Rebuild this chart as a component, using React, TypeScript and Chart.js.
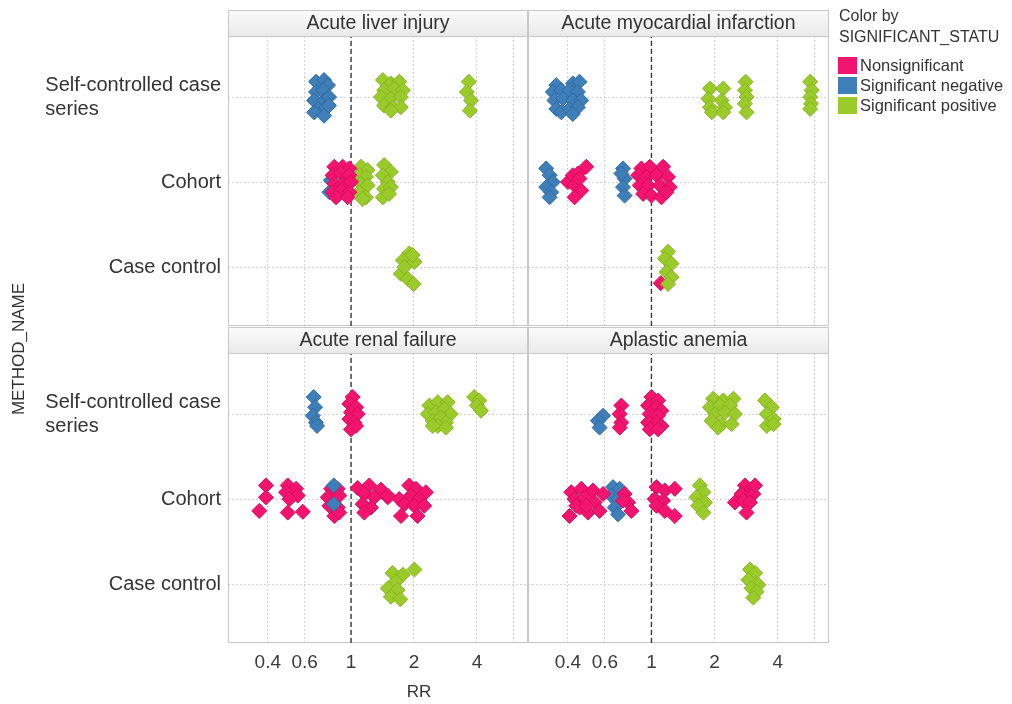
import React, { useEffect, useRef } from "react";
import { Chart, registerables } from "chart.js";

Chart.register(...registerables);

// ---- categories -------------------------------------------------------------
const SCCS = "Self-controlled case series";
const COHORT = "Cohort";
const CASE_CONTROL = "Case control";

// bottom to top on the vertical axis
const METHOD_ORDER = [CASE_CONTROL, COHORT, SCCS];
const METHOD_LINES: Record<string, string[]> = {
  [SCCS]: ["Self-controlled case", "series"],
  [COHORT]: ["Cohort"],
  [CASE_CONTROL]: ["Case control"],
};

const STATUSES = ["Nonsignificant", "Significant negative", "Significant positive"];
const STATUS_FILL = ["#F3146F", "#3F7FB9", "#9BCB2B"];
const STATUS_EDGE = ["#D70A5C", "#2F6AA0", "#86B51E"];

const RR_TICKS = [0.4, 0.6, 1, 2, 4, 6];
const RR_TICK_LABELS = ["0.4", "0.6", "1", "2", "4", ""];

// each estimate: [method, RR, vertical jitter within the method row]
type Est = [string, number, number];

// ---- Acute liver injury -------------------------------------------------------
const liverNonsig: Est[] = [
  [COHORT, 0.832, 0.18], [COHORT, 0.913, 0.18], [COHORT, 0.982, 0.16], [COHORT, 0.817, 0.08],
  [COHORT, 0.896, 0.1], [COHORT, 0.982, 0.08], [COHORT, 0.832, -0.02], [COHORT, 0.913, -0.02],
  [COHORT, 1.0, 0], [COHORT, 0.817, -0.12], [COHORT, 0.896, -0.1], [COHORT, 0.982, -0.12],
  [COHORT, 0.848, -0.18], [COHORT, 0.964, -0.18],
];
const liverNeg: Est[] = [
  [SCCS, 0.68, 0.18], [SCCS, 0.743, 0.2], [SCCS, 0.776, 0.14], [SCCS, 0.68, 0.06],
  [SCCS, 0.735, 0.08], [SCCS, 0.666, -0.04], [SCCS, 0.743, -0.04], [SCCS, 0.785, 0],
  [SCCS, 0.695, -0.14], [SCCS, 0.76, -0.12], [SCCS, 0.666, -0.18], [SCCS, 0.743, -0.22],
  [SCCS, 0.785, -0.1],
  [COHORT, 0.788, -0.12], [COHORT, 0.8, 0.02],
];
const liverPos: Est[] = [
  [SCCS, 1.42, 0.2], [SCCS, 1.55, 0.16], [SCCS, 1.7, 0.18], [SCCS, 1.44, 0.08],
  [SCCS, 1.61, 0.1], [SCCS, 1.77, 0.08], [SCCS, 1.39, 0], [SCCS, 1.55, -0.02],
  [SCCS, 1.73, 0], [SCCS, 1.44, -0.1], [SCCS, 1.58, -0.12], [SCCS, 1.73, -0.12],
  [SCCS, 1.55, -0.16],
  [SCCS, 3.66, 0.18], [SCCS, 3.58, 0.06], [SCCS, 3.75, -0.04], [SCCS, 3.7, -0.16],
  [COHORT, 1.116, 0.18], [COHORT, 1.2, 0.14], [COHORT, 1.096, 0.08], [COHORT, 1.179, 0.06],
  [COHORT, 1.116, -0.02], [COHORT, 1.2, -0.04], [COHORT, 1.096, -0.12], [COHORT, 1.179, -0.18],
  [COHORT, 1.137, -0.2],
  [COHORT, 1.44, 0.2], [COHORT, 1.55, 0.12], [COHORT, 1.42, 0.08], [COHORT, 1.5, 0],
  [COHORT, 1.44, -0.08], [COHORT, 1.55, -0.06], [COHORT, 1.42, -0.18], [COHORT, 1.52, -0.14],
  [CASE_CONTROL, 1.9, 0.16], [CASE_CONTROL, 1.77, 0.08], [CASE_CONTROL, 2.01, 0.06],
  [CASE_CONTROL, 1.73, -0.08], [CASE_CONTROL, 1.87, -0.14], [CASE_CONTROL, 1.99, -0.2],
  [CASE_CONTROL, 1.97, 0.14], [CASE_CONTROL, 1.8, 0],
];

// ---- Acute myocardial infarction --------------------------------------------
const amiNonsig: Est[] = [
  [COHORT, 0.4, 0], [COHORT, 0.422, 0.08], [COHORT, 0.446, 0.1], [COHORT, 0.489, 0.18],
  [COHORT, 0.43, -0.04], [COHORT, 0.463, -0.1], [COHORT, 0.43, -0.18], [COHORT, 0.454, 0.04],
  [COHORT, 0.896, 0.16], [COHORT, 0.982, 0.18], [COHORT, 1.137, 0.18], [COHORT, 0.864, 0.08],
  [COHORT, 0.946, 0.06], [COHORT, 1.057, 0.08], [COHORT, 1.2, 0.06], [COHORT, 0.879, -0.04],
  [COHORT, 0.964, -0.04], [COHORT, 1.096, -0.04], [COHORT, 1.223, -0.06], [COHORT, 0.913, -0.14],
  [COHORT, 1.0, -0.16], [COHORT, 1.116, -0.18], [COHORT, 1.179, -0.12],
  [CASE_CONTROL, 1.108, -0.19],
];
const amiNeg: Est[] = [
  [SCCS, 0.352, 0.14], [SCCS, 0.339, 0.06], [SCCS, 0.372, 0.08], [SCCS, 0.345, -0.04],
  [SCCS, 0.379, -0.02], [SCCS, 0.352, -0.14], [SCCS, 0.372, -0.18],
  [SCCS, 0.422, 0.16], [SCCS, 0.454, 0.18], [SCCS, 0.407, 0.08], [SCCS, 0.446, 0.06],
  [SCCS, 0.422, -0.04], [SCCS, 0.463, -0.04], [SCCS, 0.407, -0.14], [SCCS, 0.446, -0.12],
  [SCCS, 0.422, -0.2],
  [COHORT, 0.315, 0.16], [COHORT, 0.327, 0.08], [COHORT, 0.339, 0], [COHORT, 0.315, -0.06],
  [COHORT, 0.333, -0.12], [COHORT, 0.327, -0.18],
  [COHORT, 0.732, 0.16], [COHORT, 0.745, 0.04], [COHORT, 0.732, -0.06], [COHORT, 0.745, -0.16],
  [COHORT, 0.719, 0.1],
];
const amiPos: Est[] = [
  [SCCS, 1.9, 0.1], [SCCS, 1.87, -0.02], [SCCS, 1.9, -0.12], [SCCS, 1.94, -0.18],
  [SCCS, 2.2, 0.1], [SCCS, 2.16, -0.04], [SCCS, 2.24, -0.12], [SCCS, 2.2, -0.18],
  [SCCS, 2.81, 0.18], [SCCS, 2.79, 0.08], [SCCS, 2.84, 0], [SCCS, 2.79, -0.08], [SCCS, 2.84, -0.18],
  [SCCS, 5.71, 0.18], [SCCS, 5.81, 0.08], [SCCS, 5.71, 0], [SCCS, 5.76, -0.08], [SCCS, 5.71, -0.14],
  [CASE_CONTROL, 1.2, 0.18], [CASE_CONTROL, 1.158, 0.1], [CASE_CONTROL, 1.246, 0.04],
  [CASE_CONTROL, 1.179, -0.06], [CASE_CONTROL, 1.246, -0.12], [CASE_CONTROL, 1.2, -0.2],
];

// ---- Acute renal failure -----------------------------------------------------
const renalNonsig: Est[] = [
  [SCCS, 1.019, 0.2], [SCCS, 0.982, 0.12], [SCCS, 1.057, 0.08], [SCCS, 1.0, 0.02],
  [SCCS, 1.076, 0], [SCCS, 0.982, -0.06], [SCCS, 1.037, -0.1], [SCCS, 1.0, -0.18],
  [SCCS, 1.057, -0.14],
  [COHORT, 0.392, 0.16], [COHORT, 0.392, 0.02], [COHORT, 0.364, -0.14],
  [COHORT, 0.498, 0.16], [COHORT, 0.546, 0.12], [COHORT, 0.489, 0.08], [COHORT, 0.556, 0.04],
  [COHORT, 0.507, 0], [COHORT, 0.498, -0.16], [COHORT, 0.588, -0.15],
  [COHORT, 0.803, 0.12], [COHORT, 0.864, 0.12], [COHORT, 0.774, 0.02], [COHORT, 0.879, 0.04],
  [COHORT, 0.788, -0.08], [COHORT, 0.864, -0.1], [COHORT, 0.832, -0.2], [COHORT, 0.879, -0.16],
  [COHORT, 1.076, 0.13], [COHORT, 1.223, 0.16], [COHORT, 1.391, 0.11], [COHORT, 1.158, 0.06],
  [COHORT, 1.292, 0.02], [COHORT, 1.498, 0.02], [COHORT, 1.7, 0], [COHORT, 1.137, -0.06],
  [COHORT, 1.246, -0.1], [COHORT, 1.498, 0.04], [COHORT, 1.158, -0.16], [COHORT, 1.734, -0.2],
  [COHORT, 1.9, 0.16], [COHORT, 2.045, 0.12], [COHORT, 2.28, 0.08], [COHORT, 1.935, 0.04],
  [COHORT, 2.12, 0], [COHORT, 1.8, -0.06], [COHORT, 2.01, -0.08], [COHORT, 2.24, -0.08],
  [COHORT, 2.08, -0.2],
];
const renalNeg: Est[] = [
  [SCCS, 0.663, 0.2], [SCCS, 0.673, 0.08], [SCCS, 0.656, -0.02], [SCCS, 0.68, -0.1],
  [SCCS, 0.688, -0.14],
  [COHORT, 0.827, 0.16], [COHORT, 0.827, -0.06],
];
const renalPos: Est[] = [
  [SCCS, 2.37, 0.1], [SCCS, 2.6, 0.14], [SCCS, 2.9, 0.14], [SCCS, 2.33, 0],
  [SCCS, 2.55, 0.02], [SCCS, 2.79, 0.06], [SCCS, 3.0, 0], [SCCS, 2.46, -0.08],
  [SCCS, 2.69, -0.04], [SCCS, 2.84, -0.1], [SCCS, 2.6, -0.14], [SCCS, 2.84, -0.16],
  [SCCS, 2.46, -0.14],
  [SCCS, 3.88, 0.2], [SCCS, 4.1, 0.16], [SCCS, 4.0, 0.1], [SCCS, 4.18, 0.04],
  [CASE_CONTROL, 1.58, 0.13], [CASE_CONTROL, 1.77, 0.11], [CASE_CONTROL, 2.01, 0.17],
  [CASE_CONTROL, 1.64, 0.03], [CASE_CONTROL, 1.5, -0.05], [CASE_CONTROL, 1.67, -0.07],
  [CASE_CONTROL, 1.55, -0.15], [CASE_CONTROL, 1.72, -0.18],
];

// ---- Aplastic anemia ---------------------------------------------------------
const aplasticNonsig: Est[] = [
  [SCCS, 0.719, 0.1], [SCCS, 0.706, 0], [SCCS, 0.719, -0.1], [SCCS, 0.706, -0.16],
  [SCCS, 1.0, 0.2], [SCCS, 1.076, 0.16], [SCCS, 0.964, 0.1], [SCCS, 1.057, 0.08],
  [SCCS, 1.116, 0.04], [SCCS, 0.982, 0], [SCCS, 1.076, -0.02], [SCCS, 0.964, -0.1],
  [SCCS, 1.057, -0.1], [SCCS, 1.116, -0.14], [SCCS, 0.982, -0.18], [SCCS, 1.076, -0.18],
  [COHORT, 0.415, 0.08], [COHORT, 0.463, 0.12], [COHORT, 0.526, 0.1], [COHORT, 0.43, 0],
  [COHORT, 0.48, 0.02], [COHORT, 0.536, -0.04], [COHORT, 0.588, 0.06], [COHORT, 0.407, -0.2],
  [COHORT, 0.454, -0.1], [COHORT, 0.498, -0.16], [COHORT, 0.566, -0.14], [COHORT, 0.438, -0.08],
  [COHORT, 0.489, -0.08],
  [COHORT, 0.745, 0.06], [COHORT, 0.774, -0.04], [COHORT, 0.803, -0.14], [COHORT, 0.732, -0.02],
  [COHORT, 1.057, 0.14], [COHORT, 1.158, 0.1], [COHORT, 1.292, 0.12], [COHORT, 1.037, 0],
  [COHORT, 1.137, -0.02], [COHORT, 1.057, -0.08], [COHORT, 1.158, -0.14], [COHORT, 1.292, -0.2],
  [COHORT, 2.79, 0.16], [COHORT, 3.0, 0.12], [COHORT, 2.69, 0.06], [COHORT, 2.9, 0.04],
  [COHORT, 3.06, 0.06], [COHORT, 2.5, -0.04], [COHORT, 2.74, -0.02], [COHORT, 2.95, -0.04],
  [COHORT, 2.84, -0.16], [COHORT, 3.12, 0.16],
];
const aplasticNeg: Est[] = [
  [SCCS, 0.588, -0.02], [SCCS, 0.556, -0.08], [SCCS, 0.566, -0.16],
  [COHORT, 0.656, 0.14], [COHORT, 0.706, 0.12], [COHORT, 0.644, 0.04], [COHORT, 0.693, 0],
  [COHORT, 0.668, -0.1], [COHORT, 0.693, -0.18],
];
const aplasticPos: Est[] = [
  [SCCS, 1.97, 0.18], [SCCS, 2.2, 0.16], [SCCS, 2.46, 0.18], [SCCS, 1.9, 0.08],
  [SCCS, 2.12, 0.1], [SCCS, 2.37, 0.1], [SCCS, 2.01, 0], [SCCS, 2.24, 0.02],
  [SCCS, 2.5, 0], [SCCS, 1.935, -0.08], [SCCS, 2.16, -0.12], [SCCS, 2.41, -0.12],
  [SCCS, 2.08, -0.16],
  [SCCS, 3.48, 0.16], [SCCS, 3.75, 0.08], [SCCS, 3.55, 0], [SCCS, 3.82, -0.06],
  [SCCS, 3.55, -0.14], [SCCS, 3.82, -0.12],
  [COHORT, 1.7, 0.16], [COHORT, 1.77, 0.08], [COHORT, 1.64, 0.02], [COHORT, 1.8, -0.04],
  [COHORT, 1.67, -0.08], [COHORT, 1.77, -0.16],
  [CASE_CONTROL, 2.95, 0.17], [CASE_CONTROL, 3.12, 0.13], [CASE_CONTROL, 2.9, 0.05],
  [CASE_CONTROL, 3.23, -0.01], [CASE_CONTROL, 3.0, -0.05], [CASE_CONTROL, 3.17, -0.09],
  [CASE_CONTROL, 3.06, -0.16],
];

// ---- facets --------------------------------------------------------------------
type Panel = {
  title: string;
  col: number;
  row: number;
  // [status index, estimates]; the first layer is painted on top
  layers: [number, Est[]][];
};

const PANELS: Panel[] = [
  { title: "Acute liver injury", col: 0, row: 0, layers: [[0, liverNonsig], [1, liverNeg], [2, liverPos]] },
  { title: "Acute myocardial infarction", col: 1, row: 0, layers: [[2, amiPos], [0, amiNonsig], [1, amiNeg]] },
  { title: "Acute renal failure", col: 0, row: 1, layers: [[1, renalNeg], [0, renalNonsig], [2, renalPos]] },
  { title: "Aplastic anemia", col: 1, row: 1, layers: [[0, aplasticNonsig], [1, aplasticNeg], [2, aplasticPos]] },
];

// ---- layout ----------------------------------------------------------------------
const W = 1012;
const H = 704;
const COL_X = [[228, 528], [528, 829]];
const ROW_Y = [[36, 326], [353, 643]];
const STRIP_H = 26;
const AXIS_H = 34;
const RR_MIN = 0.258;
const RR_MAX = 7.02;
const Y_MIN = 0.306;
const Y_MAX = 3.718;
const FONT = "'Liberation Sans', Arial, Helvetica, sans-serif";
const TEXT = "#333333";
const GRID = "#d2d2d2";
const FRAME = "#c8c8c8";

function makeDecor(panel: Panel) {
  return {
    id: "facetDecor",
    beforeDatasetsDraw(chart: any) {
      const { ctx, chartArea: a } = chart;
      ctx.save();
      ctx.strokeStyle = FRAME;
      ctx.lineWidth = 1;
      ctx.strokeRect(a.left + 0.5, a.top + 0.5, a.right - a.left - 1, a.bottom - a.top - 1);
      ctx.restore();
    },
    afterDraw(chart: any) {
      const { ctx, chartArea: a } = chart;
      ctx.save();

      // facet strip
      const sTop = a.top - STRIP_H;
      const g = ctx.createLinearGradient(0, sTop, 0, a.top);
      g.addColorStop(0, "#fbfbfb");
      g.addColorStop(1, "#eaeaea");
      ctx.fillStyle = g;
      ctx.fillRect(a.left, sTop, a.right - a.left, STRIP_H);
      ctx.strokeStyle = FRAME;
      ctx.lineWidth = 1;
      ctx.strokeRect(a.left + 0.5, sTop + 0.5, a.right - a.left - 1, STRIP_H);
      ctx.fillStyle = TEXT;
      ctx.font = `19.5px ${FONT}`;
      ctx.textAlign = "center";
      ctx.textBaseline = "middle";
      ctx.fillText(panel.title, (a.left + a.right) / 2, sTop + STRIP_H / 2 + 1);

      // method names beside the left column
      if (panel.col === 0) {
        const yScale = chart.scales.y;
        ctx.font = `20px ${FONT}`;
        ctx.textAlign = "left";
        ctx.fillStyle = TEXT;
        METHOD_ORDER.forEach((m, i) => {
          const lines = METHOD_LINES[m];
          const cy = yScale.getPixelForValue(i + 1);
          const w = Math.max(...lines.map((l) => ctx.measureText(l).width));
          const x0 = 221 - w;
          lines.forEach((ln, k) => {
            ctx.fillText(ln, x0, cy + (k - (lines.length - 1) / 2) * 24);
          });
        });
      }

      // axis titles
      if (panel.col === 0 && panel.row === 1) {
        ctx.font = `17px ${FONT}`;
        ctx.fillStyle = TEXT;
        ctx.textAlign = "center";
        ctx.textBaseline = "middle";
        ctx.fillText("RR", 419, 692);
        ctx.save();
        ctx.translate(19, 349);
        ctx.rotate(-Math.PI / 2);
        ctx.fillText("METHOD_NAME", 0, 0);
        ctx.restore();
      }

      // colour legend
      if (panel.col === 1 && panel.row === 0) {
        ctx.textAlign = "left";
        ctx.textBaseline = "middle";
        ctx.fillStyle = TEXT;
        ctx.font = `16px ${FONT}`;
        ctx.fillText("Color by", 839, 17);
        ctx.fillText("SIGNIFICANT_STATU", 839, 38);
        ctx.font = `16.5px ${FONT}`;
        STATUSES.forEach((s, i) => {
          const top = 57 + i * 20;
          ctx.fillStyle = STATUS_FILL[i];
          ctx.fillRect(838, top, 19, 17);
          ctx.fillStyle = TEXT;
          ctx.fillText(s, 860, top + 9);
        });
      }
      ctx.restore();
    },
  };
}

function buildChart(canvas: HTMLCanvasElement, panel: Panel) {
  const [left, right] = COL_X[panel.col];
  const [top, bottom] = ROW_Y[panel.row];
  const showX = panel.row === 1;

  const datasets: any[] = panel.layers.map(([s, pts]) => ({
    label: STATUSES[s],
    data: pts.map(([m, rr, j]) => ({ x: rr, y: METHOD_ORDER.indexOf(m) + 1 + j })),
    pointStyle: "rectRot",
    pointRadius: 7.5,
    pointHoverRadius: 7.5,
    backgroundColor: STATUS_FILL[s],
    borderColor: STATUS_EDGE[s],
    borderWidth: 1,
  }));
  // reference line at RR = 1, painted beneath the estimates
  datasets.push({
    label: "RR = 1",
    data: [
      { x: 1, y: Y_MIN },
      { x: 1, y: Y_MAX },
    ],
    showLine: true,
    borderColor: "#3a3a3a",
    borderWidth: 1.4,
    borderDash: [5, 3],
    pointRadius: 0,
    fill: false,
  });

  return new Chart(canvas, {
    type: "scatter",
    data: { datasets },
    options: {
      animation: false,
      responsive: false,
      maintainAspectRatio: false,
      events: [],
      layout: {
        padding: {
          left,
          right: W - right,
          top,
          bottom: showX ? H - bottom - AXIS_H : H - bottom,
        },
      },
      plugins: { legend: { display: false }, tooltip: { enabled: false } },
      scales: {
        x: {
          type: "logarithmic",
          min: RR_MIN,
          max: RR_MAX,
          afterBuildTicks: (s: any) => {
            s.ticks = RR_TICKS.map((v) => ({ value: v }));
          },
          afterFit: (s: any) => {
            s.height = showX ? AXIS_H : 0;
          },
          grid: { color: GRID, lineWidth: 1, drawTicks: false },
          border: { display: false, dash: [2, 2] },
          ticks: {
            display: showX,
            autoSkip: false,
            maxRotation: 0,
            padding: 8,
            color: "#3a3a3a",
            font: { family: FONT, size: 19 },
            callback: (v: any) => {
              const i = RR_TICKS.indexOf(Number(v));
              return i >= 0 ? RR_TICK_LABELS[i] : "";
            },
          },
        },
        y: {
          type: "linear",
          min: Y_MIN,
          max: Y_MAX,
          afterBuildTicks: (s: any) => {
            s.ticks = METHOD_ORDER.map((_, i) => ({ value: i + 1 }));
          },
          afterFit: (s: any) => {
            s.width = 0;
          },
          grid: { color: GRID, lineWidth: 1, drawTicks: false },
          border: { display: false, dash: [2, 2] },
          ticks: { display: false },
        },
      },
    },
    plugins: [makeDecor(panel)],
  } as any);
}

export default function App() {
  const refs = useRef<(HTMLCanvasElement | null)[]>([]);

  useEffect(() => {
    const charts = PANELS.map((p, i) => buildChart(refs.current[i] as HTMLCanvasElement, p));
    return () => charts.forEach((c) => c.destroy());
  }, []);

  return (
    <div style={{ position: "fixed", left: 0, top: 0, width: W, height: H, background: "#ffffff" }}>
      {PANELS.map((p, i) => (
        <canvas
          key={p.title}
          ref={(el) => {
            refs.current[i] = el;
          }}
          width={W}
          height={H}
          style={{ position: "absolute", left: 0, top: 0, width: W, height: H, display: "block" }}
        />
      ))}
    </div>
  );
}
